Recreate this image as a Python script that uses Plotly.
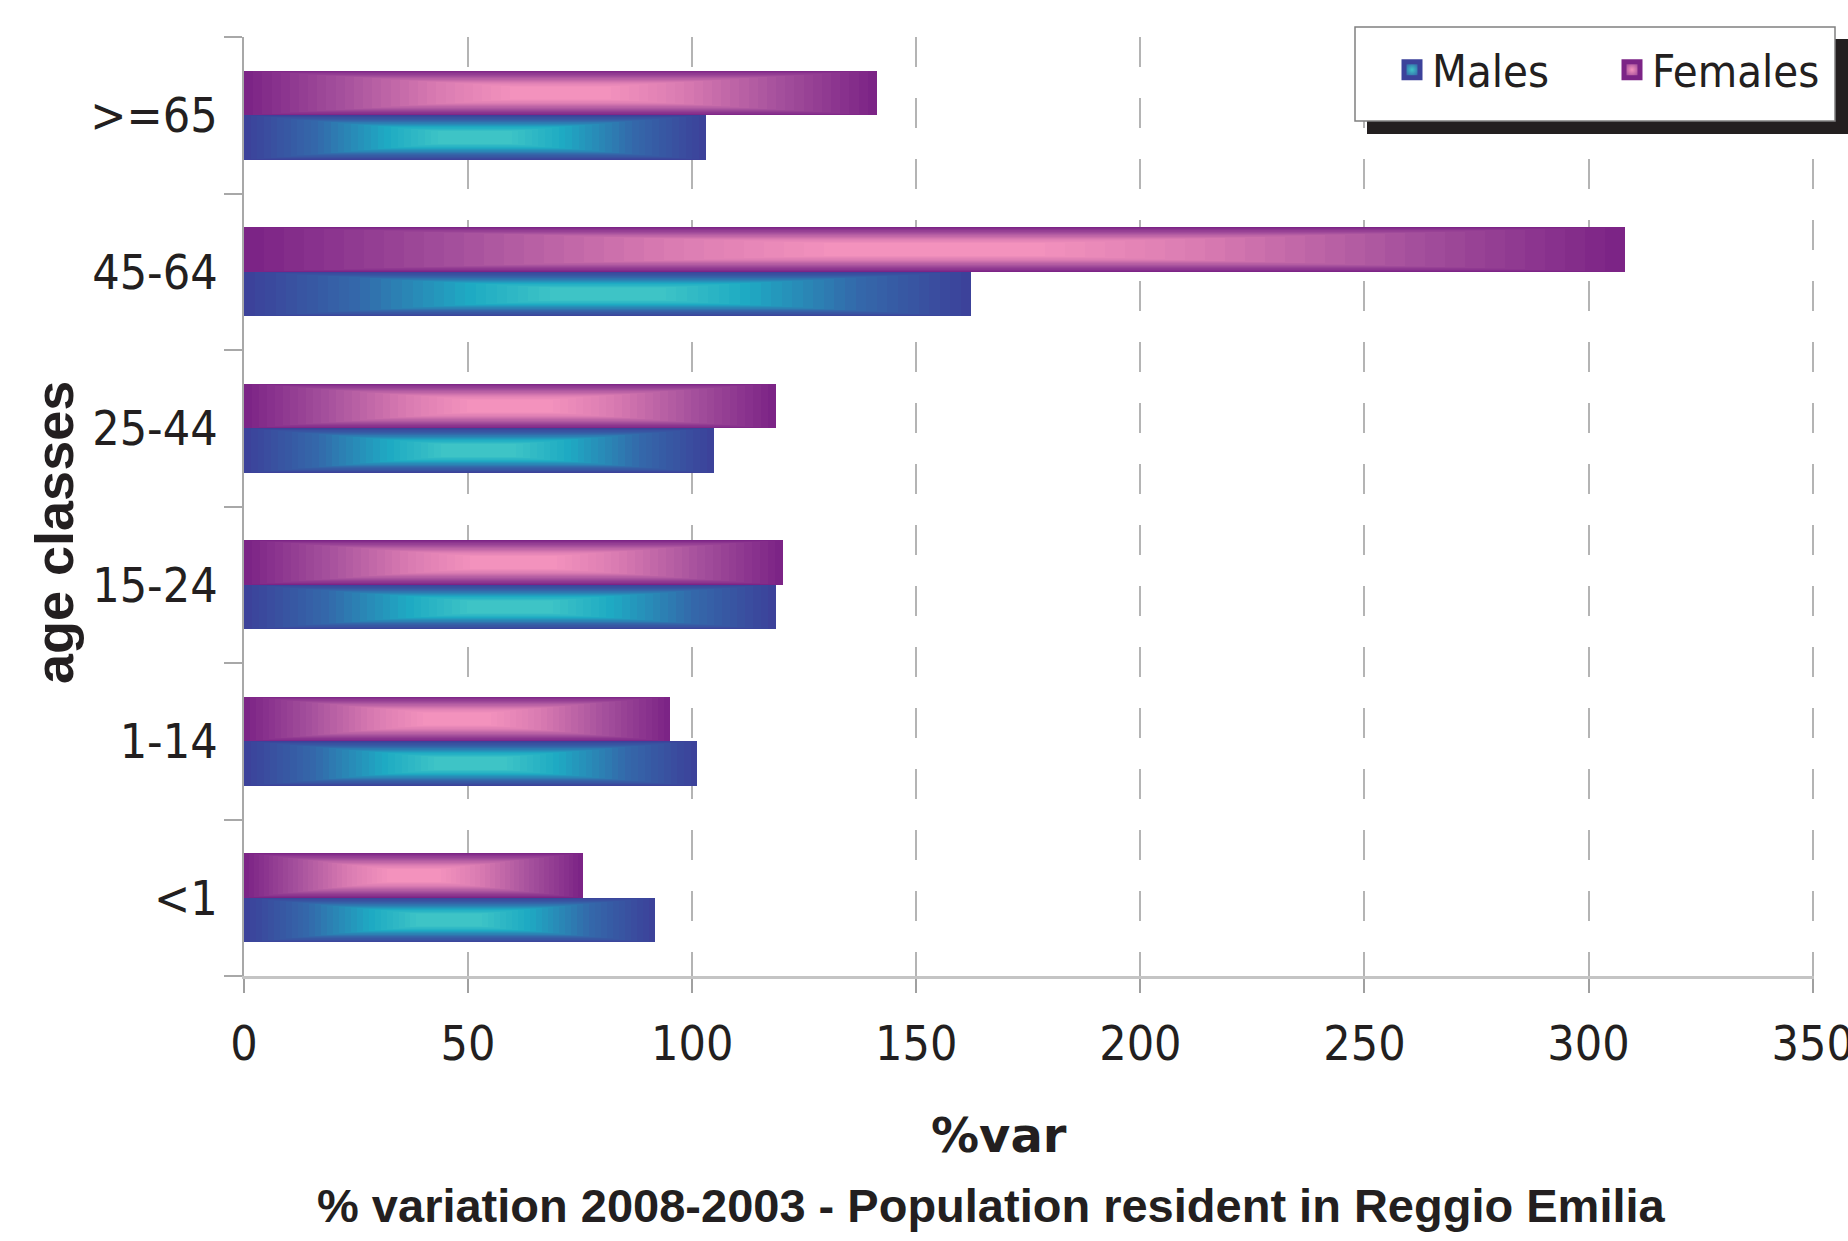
import plotly.graph_objects as go
import numpy as np

# ---------------- data ----------------
categories = ["<1", "1-14", "15-24", "25-44", "45-64", ">=65"]
males = [91.6, 101.1, 118.7, 104.8, 162.3, 103.0]
females = [75.7, 95.1, 120.3, 118.7, 308.1, 141.2]
x_ticks = [0, 50, 100, 150, 200, 250, 300, 350]
series_names = ["Males", "Females"]

title_text = "% variation 2008-2003 - Population resident in Reggio Emilia"
x_title = "%var"
y_title = "age classes"

# ---------------- style ----------------
W, H = 1848, 1241
ML, MR, MT, MB = 244, 34, 37, 265
PW = W - ML - MR
PH = H - MT - MB

male_stops = [(0.0, (60, 66, 154)), (0.35, (52, 104, 170)), (0.72, (30, 170, 195)), (1.0, (62, 196, 198))]
female_stops = [(0.0, (124, 36, 134)), (0.35, (165, 80, 156)), (0.72, (218, 124, 178)), (1.0, (243, 146, 189))]

N_LAYERS = 30
BAR_W = 0.285
H_INSET = 0.42
V_INSET = 0.36

COND = "DejaVu Sans Condensed, Liberation Sans Narrow, Arial Narrow, sans-serif"


def interp(stops, t):
    for (t0, c0), (t1, c1) in zip(stops[:-1], stops[1:]):
        if t <= t1:
            f = 0 if t1 == t0 else (t - t0) / (t1 - t0)
            c = [round(a + (b - a) * f) for a, b in zip(c0, c1)]
            return "rgb(%d,%d,%d)" % tuple(c)
    return "rgb(%d,%d,%d)" % stops[-1][1]


def px_x(p):
    return (p - ML) / PW


def px_y(p):
    return (H - MB - p) / PH


fig = go.Figure()

for name, vals, stops, off0 in [
    ("Males", males, male_stops, -BAR_W),
    ("Females", females, female_stops, 0.0),
]:
    v = np.array(vals, dtype=float)
    for k in range(N_LAYERS):
        t = k / (N_LAYERS - 1)
        a = H_INSET * t
        b = V_INSET * t
        fig.add_trace(go.Bar(
            y=categories, x=v * (1 - 2 * a), base=v * a, orientation="h",
            offset=off0 + BAR_W * b, width=BAR_W * (1 - 2 * b),
            marker=dict(color=interp(stops, t), line=dict(width=0)),
            showlegend=False, hoverinfo="skip", name=name,
        ))

# legend entries
for name, stops in [("Males", male_stops), ("Females", female_stops)]:
    fig.add_trace(go.Scatter(
        x=[None], y=[None], mode="markers", name=name,
        marker=dict(symbol="square", size=24, color=interp(stops, 0.3),
                    gradient=dict(type="radial", color=interp(stops, 1.0)),
                    line=dict(width=5, color=interp(stops, 0.0))),
    ))

tick_font = dict(family=COND, size=48, color="#231f20")

fig.update_layout(
    width=W, height=H,
    margin=dict(l=ML, r=MR, t=MT, b=MB, autoexpand=False),
    paper_bgcolor="white", plot_bgcolor="white",
    barmode="overlay",
    bargap=0,
    showlegend=True,
    legend=dict(
        orientation="h", x=px_x(1392), y=px_y(34), xanchor="left", yanchor="top",
        bgcolor="rgba(0,0,0,0)", borderwidth=0,
        font=dict(family=COND, size=45, color="#231f20"),
        entrywidth=175, entrywidthmode="pixels", valign="middle",
        itemsizing="trace",
    ),
    xaxis=dict(
        range=[0, 350.3], tickvals=x_ticks, ticktext=[str(v) for v in x_ticks],
        showgrid=True, gridcolor="#b4b4b4", gridwidth=1.5, griddash="30px,31px",
        zeroline=False, showline=True, linecolor="#c4c4c4", linewidth=2.5,
        ticks="outside", ticklen=14, tickcolor="#a0a0a0", tickwidth=1.5,
        tickfont=tick_font, ticklabelstandoff=10, automargin=False,
        ticklabeloverflow="allow", fixedrange=True,
    ),
    yaxis=dict(
        type="category", categoryorder="array", categoryarray=categories,
        range=[-0.5, 5.5],
        showgrid=False, zeroline=False, showline=True, linecolor="#a8a8a8", linewidth=1.5,
        ticks="outside", ticklen=18, tickcolor="#a8a8a8", tickwidth=1.5, tickson="boundaries",
        tickfont=tick_font, ticklabelstandoff=15, automargin=False,
        fixedrange=True,
    ),
    shapes=[
        dict(type="rect", xref="paper", yref="paper", layer="above",
             x0=px_x(1367), x1=px_x(1848), y0=px_y(39), y1=px_y(134),
             fillcolor="#231f20", line=dict(width=0)),
        dict(type="rect", xref="paper", yref="paper", layer="above",
             x0=px_x(1355), x1=px_x(1835), y0=px_y(27), y1=px_y(121),
             fillcolor="white", line=dict(color="#808080", width=1.5)),
    ],
    annotations=[
        dict(text=x_title, xref="paper", yref="paper", x=px_x(999), y=px_y(1135),
             xanchor="center", yanchor="middle", showarrow=False,
             font=dict(family="DejaVu Sans, Verdana, sans-serif", size=48, color="#231f20", weight="bold")),
        dict(text=title_text, xref="paper", yref="paper", x=px_x(991), y=px_y(1205),
             xanchor="center", yanchor="middle", showarrow=False,
             font=dict(family="Liberation Sans, Arial, sans-serif", size=47, color="#231f20", weight="bold")),
        dict(text=y_title, xref="paper", yref="paper", x=px_x(54), y=px_y(533),
             xanchor="center", yanchor="middle", showarrow=False, textangle=-90,
             font=dict(family="Liberation Sans, Arial, sans-serif", size=54, color="#231f20", weight="bold")),
    ],
)

fig.write_html("out.html", config={"displayModeBar": False})
